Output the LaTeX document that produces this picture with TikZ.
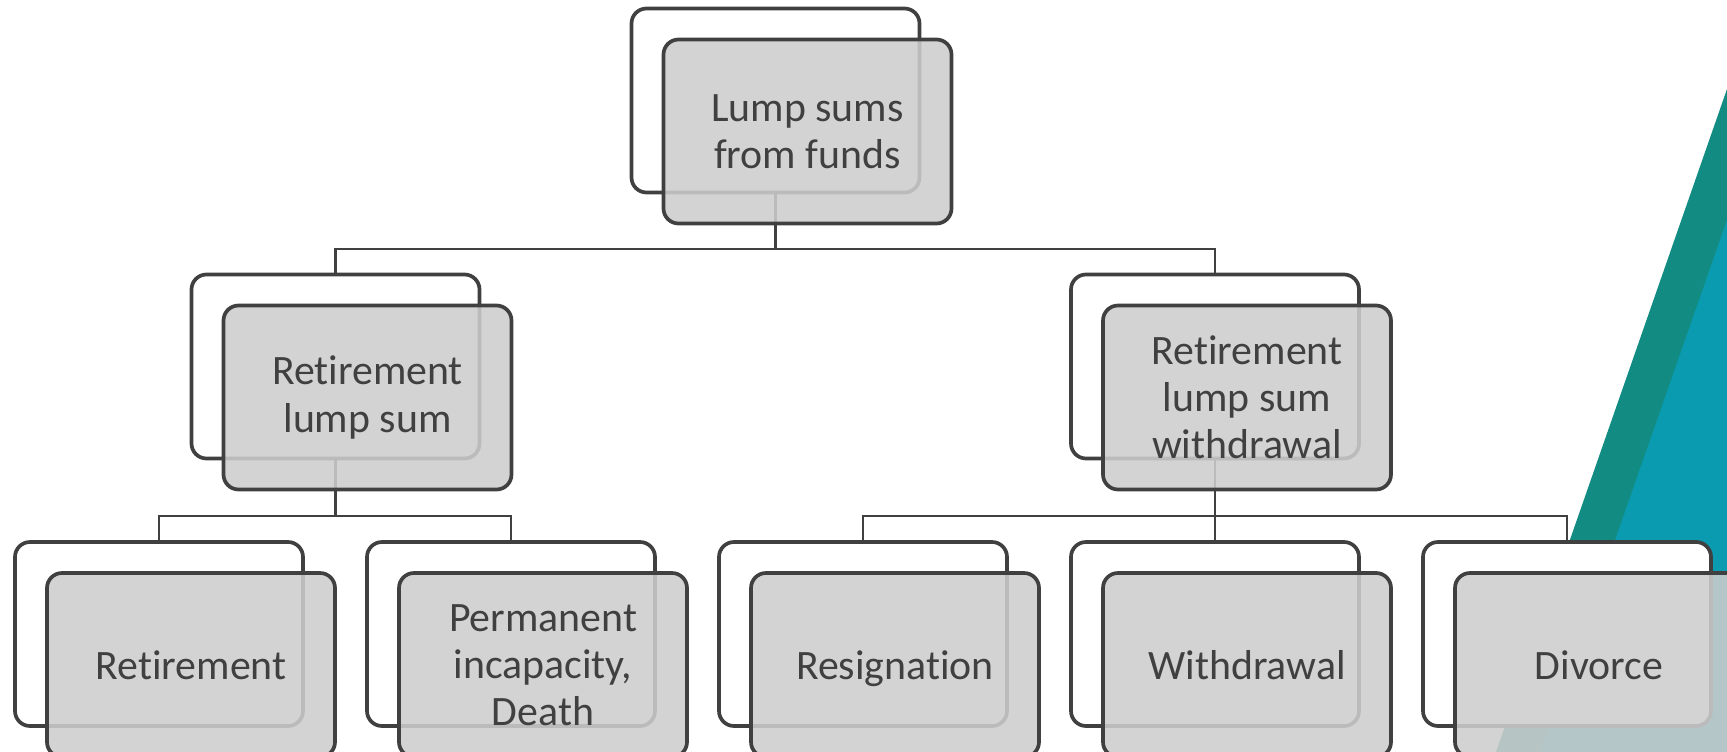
\documentclass[tikz,border=0pt]{standalone}
\usepackage{fontspec}
\setmainfont{Carlito}[RawFeature={-liga;-calt;-clig}]
\usetikzlibrary{positioning}
\definecolor{inkgray}{HTML}{404040}
\definecolor{boxgray}{RGB}{205,205,205}
\definecolor{tealdark}{RGB}{18,140,130}
\definecolor{tealbright}{RGB}{10,155,176}
\pgfdeclarelayer{deco}
\pgfdeclarelayer{links}
\pgfsetlayers{deco,links,main}

\begin{document}
\begin{tikzpicture}[
  back/.style={draw=inkgray, line width=2.1pt, fill=white, rounded corners=0.3cm,
    minimum width=5.76cm, minimum height=3.68cm},
  front/.style={back, fill=boxgray, fill opacity=0.88, text opacity=1, text=inkgray,
    align=center, font=\fontsize{23.8}{26.8}\selectfont},
  link/.style={draw=inkgray, line width=1.4pt},
  lift/.style={shift={(0.64,-0.62)}}]
  \useasboundingbox (0,0) rectangle (34.54,-15.04);
  \begin{pgfonlayer}{deco}
    \fill[tealdark] (34.54,-1.78) -- (29.92,-15.04) -- (34.54,-15.04) -- cycle;
    \fill[tealbright] (34.54,-4.40) -- (30.82,-15.04) -- (34.54,-15.04) -- cycle;
  \end{pgfonlayer}

  \node[back] (fundsb) at (15.51,-2.01) {};
  \node[front] (funds) at ([lift]fundsb.center) {Lump sums\\from funds};

  \node[back] (lumpb) at (6.71,-7.33) {};
  \node[front] (lump) at ([lift]lumpb.center) {Retirement\\lump sum};
  \node[back] (drawb) at (24.30,-7.33) {};
  \node[front] (draw) at ([lift]drawb.center) {Retirement\\lump sum\\withdrawal};

  \node[back] (retb) at (3.18,-12.68) {};
  \node[front] (ret) at ([lift]retb.center) {Retirement};
  \node[back] (deathb) at (10.22,-12.68) {};
  \node[front] (death) at ([lift]deathb.center) {Permanent\\incapacity,\\Death};
  \node[back] (resignb) at (17.26,-12.68) {};
  \node[front, text depth=0pt] (resign) at ([lift]resignb.center) {Resignation};
  \node[back] (withb) at (24.30,-12.68) {};
  \node[front] (with) at ([lift]withb.center) {Withdrawal};
  \node[back] (divb) at (31.34,-12.68) {};
  \node[front] (div) at ([lift]divb.center) {Divorce};

  \coordinate (bus1) at (15.51,-4.98);
  \coordinate (bus2) at (6.71,-10.32);
  \coordinate (bus3) at (24.30,-10.32);
  \begin{pgfonlayer}{links}
    \draw[link] (fundsb.south) -- (bus1);
    \draw[link] (lumpb.north) |- (bus1) -| (drawb.north);
    \draw[link] (lumpb.south) -- (bus2);
    \draw[link] (retb.north) |- (bus2) -| (deathb.north);
    \draw[link] (drawb.south) -- (bus3) -- (withb.north);
    \draw[link] (resignb.north) |- (bus3) -| (divb.north);
  \end{pgfonlayer}
\end{tikzpicture}
\end{document}
